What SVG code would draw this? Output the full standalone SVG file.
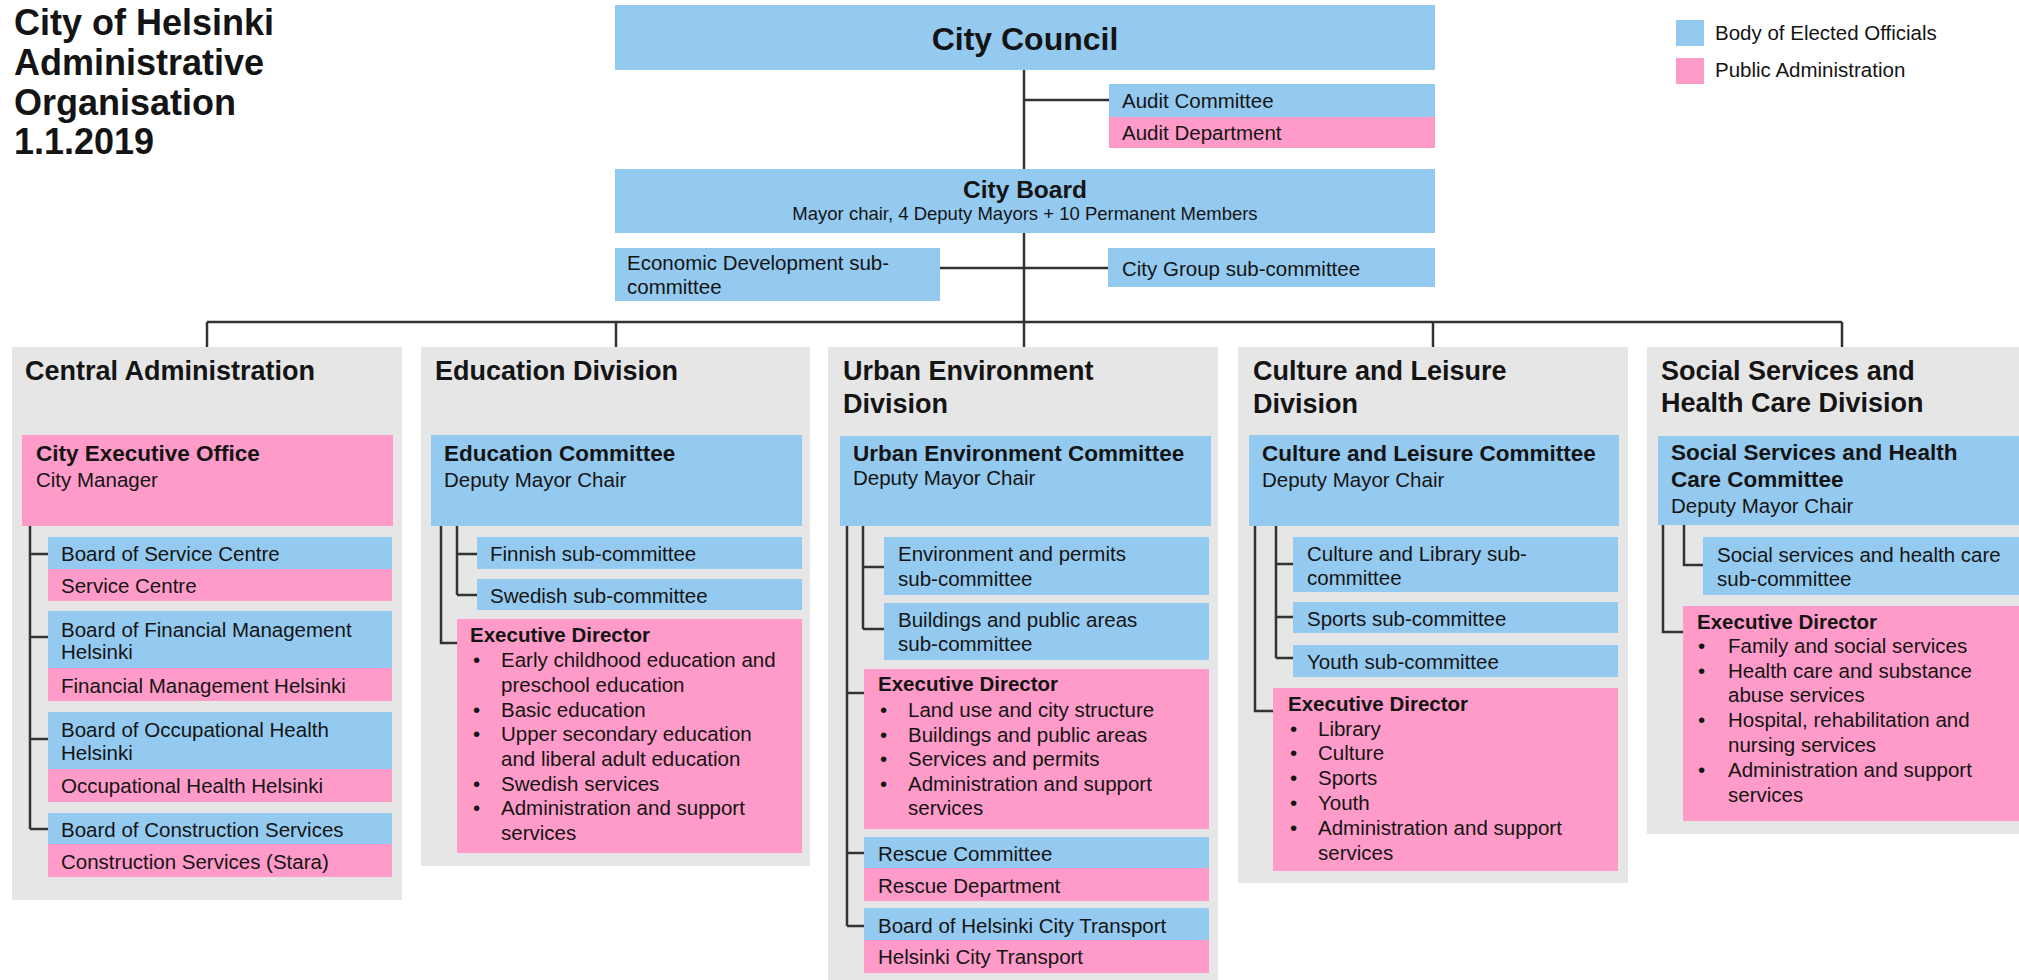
<svg xmlns="http://www.w3.org/2000/svg" width="2019" height="980" viewBox="0 0 2019 980">
<style>
.b{fill:#94CAF0}
.p{fill:#FF9BC8}
.g{fill:#E6E6E6}
text{font-family:"Liberation Sans",Arial,sans-serif;fill:#141414;font-size:20.5px}
.bd{font-weight:bold}
.ttl{font-weight:bold;font-size:36px}
.div{font-weight:bold;font-size:27px}
.cm{font-weight:bold;font-size:22.5px}
.mid{text-anchor:middle}
.con{fill:none;stroke:#333;stroke-width:2.5}
</style>
<rect width="2019" height="980" fill="#fff"/>
<g id="title">
<text class="ttl" x="14" y="35">City of Helsinki</text>
<text class="ttl" x="14" y="75">Administrative</text>
<text class="ttl" x="14" y="115">Organisation</text>
<text class="ttl" x="14" y="154">1.1.2019</text>
</g>
<g id="legend">
<rect class="b" x="1676" y="20" width="28" height="26"/>
<text x="1715" y="40">Body of Elected Officials</text>
<rect class="p" x="1676" y="58" width="28" height="26"/>
<text x="1715" y="77">Public Administration</text>
</g>
<g id="city-council">
<rect class="b" x="615" y="5" width="820" height="65"/>
<text class="bd mid" x="1025" y="50" style="font-size:32px">City Council</text>
</g>
<g id="audit">
<rect class="b" x="1109" y="84" width="326" height="33"/>
<rect class="p" x="1109" y="117" width="326" height="31"/>
<text x="1122" y="108">Audit Committee</text>
<text x="1122" y="140">Audit Department</text>
</g>
<g id="city-board">
<rect class="b" x="615" y="169" width="820" height="64"/>
<text class="bd mid" x="1025" y="198" style="font-size:24.5px">City Board</text>
<text class="mid" x="1025" y="220" style="font-size:18.5px">Mayor chair, 4 Deputy Mayors + 10 Permanent Members</text>
</g>
<g id="econ-dev">
<rect class="b" x="615" y="248" width="325" height="53"/>
<text x="627" y="270">Economic Development sub-</text>
<text x="627" y="294">committee</text>
</g>
<g id="city-group">
<rect class="b" x="1108" y="248" width="327" height="39"/>
<text x="1122" y="276">City Group sub-committee</text>
</g>
<g id="central-admin">
<rect class="g" x="12" y="347" width="390" height="553"/>
<text class="div" x="25" y="380">Central Administration</text>
<rect class="p" x="22" y="435" width="371" height="91"/>
<text class="cm" x="36" y="461">City Executive Office</text>
<text x="36" y="487">City Manager</text>
<rect class="b" x="48" y="537" width="344" height="32"/>
<rect class="p" x="48" y="569" width="344" height="32"/>
<text x="61" y="561">Board of Service Centre</text>
<text x="61" y="593">Service Centre</text>
<rect class="b" x="48" y="611" width="344" height="57"/>
<rect class="p" x="48" y="668" width="344" height="33"/>
<text x="61" y="637">Board of Financial Management</text>
<text x="61" y="659">Helsinki</text>
<text x="61" y="693">Financial Management Helsinki</text>
<rect class="b" x="48" y="712" width="344" height="57"/>
<rect class="p" x="48" y="769" width="344" height="33"/>
<text x="61" y="737">Board of Occupational Health</text>
<text x="61" y="760">Helsinki</text>
<text x="61" y="793">Occupational Health Helsinki</text>
<rect class="b" x="48" y="813" width="344" height="31"/>
<rect class="p" x="48" y="844" width="344" height="33"/>
<text x="61" y="837">Board of Construction Services</text>
<text x="61" y="869">Construction Services (Stara)</text>
</g>
<g id="education">
<rect class="g" x="421" y="347" width="389" height="519"/>
<text class="div" x="435" y="380">Education Division</text>
<rect class="b" x="431" y="435" width="371" height="91"/>
<text class="cm" x="444" y="461">Education Committee</text>
<text x="444" y="487">Deputy Mayor Chair</text>
<rect class="b" x="477" y="537" width="325" height="32"/>
<text x="490" y="561">Finnish sub-committee</text>
<rect class="b" x="477" y="579" width="325" height="31"/>
<text x="490" y="603">Swedish sub-committee</text>
<rect class="p" x="457" y="619" width="345" height="234"/>
<text class="bd" x="470" y="642">Executive Director</text>
<text x="473" y="667">•</text><text x="501" y="667">Early childhood education and</text>
<text x="501" y="692">preschool education</text>
<text x="473" y="717">•</text><text x="501" y="717">Basic education</text>
<text x="473" y="741">•</text><text x="501" y="741">Upper secondary education</text>
<text x="501" y="766">and liberal adult education</text>
<text x="473" y="791">•</text><text x="501" y="791">Swedish services</text>
<text x="473" y="815">•</text><text x="501" y="815">Administration and support</text>
<text x="501" y="840">services</text>
</g>
<g id="urban">
<rect class="g" x="828" y="347" width="390" height="633"/>
<text class="div" x="843" y="380">Urban Environment</text>
<text class="div" x="843" y="413">Division</text>
<rect class="b" x="840" y="436" width="371" height="90"/>
<text class="cm" x="853" y="461">Urban Environment Committee</text>
<text x="853" y="485">Deputy Mayor Chair</text>
<rect class="b" x="884" y="537" width="325" height="58"/>
<text x="898" y="561">Environment and permits</text>
<text x="898" y="586">sub-committee</text>
<rect class="b" x="884" y="603" width="325" height="57"/>
<text x="898" y="627">Buildings and public areas</text>
<text x="898" y="651">sub-committee</text>
<rect class="p" x="864" y="669" width="345" height="160"/>
<text class="bd" x="878" y="691">Executive Director</text>
<text x="880" y="717">•</text><text x="908" y="717">Land use and city structure</text>
<text x="880" y="742">•</text><text x="908" y="742">Buildings and public areas</text>
<text x="880" y="766">•</text><text x="908" y="766">Services and permits</text>
<text x="880" y="791">•</text><text x="908" y="791">Administration and support</text>
<text x="908" y="815">services</text>
<rect class="b" x="864" y="837" width="345" height="31"/>
<rect class="p" x="864" y="868" width="345" height="33"/>
<text x="878" y="861">Rescue Committee</text>
<text x="878" y="893">Rescue Department</text>
<rect class="b" x="864" y="908" width="345" height="32"/>
<rect class="p" x="864" y="940" width="345" height="33"/>
<text x="878" y="933">Board of Helsinki City Transport</text>
<text x="878" y="964">Helsinki City Transport</text>
</g>
<g id="culture">
<rect class="g" x="1238" y="347" width="390" height="536"/>
<text class="div" x="1253" y="380">Culture and Leisure</text>
<text class="div" x="1253" y="413">Division</text>
<rect class="b" x="1249" y="435" width="370" height="91"/>
<text class="cm" x="1262" y="461">Culture and Leisure Committee</text>
<text x="1262" y="487">Deputy Mayor Chair</text>
<rect class="b" x="1293" y="537" width="325" height="55"/>
<text x="1307" y="561">Culture and Library sub-</text>
<text x="1307" y="585">committee</text>
<rect class="b" x="1293" y="602" width="325" height="31"/>
<text x="1307" y="626">Sports sub-committee</text>
<rect class="b" x="1293" y="645" width="325" height="32"/>
<text x="1307" y="669">Youth sub-committee</text>
<rect class="p" x="1273" y="688" width="345" height="183"/>
<text class="bd" x="1288" y="711">Executive Director</text>
<text x="1290" y="736">•</text><text x="1318" y="736">Library</text>
<text x="1290" y="760">•</text><text x="1318" y="760">Culture</text>
<text x="1290" y="785">•</text><text x="1318" y="785">Sports</text>
<text x="1290" y="810">•</text><text x="1318" y="810">Youth</text>
<text x="1290" y="835">•</text><text x="1318" y="835">Administration and support</text>
<text x="1318" y="860">services</text>
</g>
<g id="social">
<rect class="g" x="1647" y="347" width="372" height="487"/>
<text class="div" x="1661" y="380">Social Services and</text>
<text class="div" x="1661" y="412">Health Care Division</text>
<rect class="b" x="1658" y="436" width="361" height="89"/>
<text class="cm" x="1671" y="460">Social Services and Health</text>
<text class="cm" x="1671" y="487">Care Committee</text>
<text x="1671" y="513">Deputy Mayor Chair</text>
<rect class="b" x="1703" y="537" width="316" height="58"/>
<text x="1717" y="562">Social services and health care</text>
<text x="1717" y="586">sub-committee</text>
<rect class="p" x="1683" y="606" width="336" height="215"/>
<text class="bd" x="1697" y="629">Executive Director</text>
<text x="1698" y="653">•</text><text x="1728" y="653">Family and social services</text>
<text x="1698" y="678">•</text><text x="1728" y="678">Health care and substance</text>
<text x="1728" y="702">abuse services</text>
<text x="1698" y="727">•</text><text x="1728" y="727">Hospital, rehabilitation and</text>
<text x="1728" y="752">nursing services</text>
<text x="1698" y="777">•</text><text x="1728" y="777">Administration and support</text>
<text x="1728" y="802">services</text>
</g>
<g id="connectors" class="con">
<path d="M1024 70V169M1024 100H1109M1024 233V322M940 268H1108M207 322H1842M207 322V347M616 322V347M1024 322V347M1433 322V347M1842 322V347"/>
<path d="M30 526V829M30 554H48M30 637H48M30 739H48M30 829H48"/>
<path d="M441 526V643H457M457 526V595M457 554H477M457 595H477"/>
<path d="M847 526V926M847 693H864M847 853H864M847 926H864M863 526V629M863 567H884M863 629H884"/>
<path d="M1255 526V711H1273M1276 526V658M1276 564H1293M1276 617H1293M1276 658H1293"/>
<path d="M1663 525V632H1683M1684 525V565H1703"/>
</g>
</svg>
